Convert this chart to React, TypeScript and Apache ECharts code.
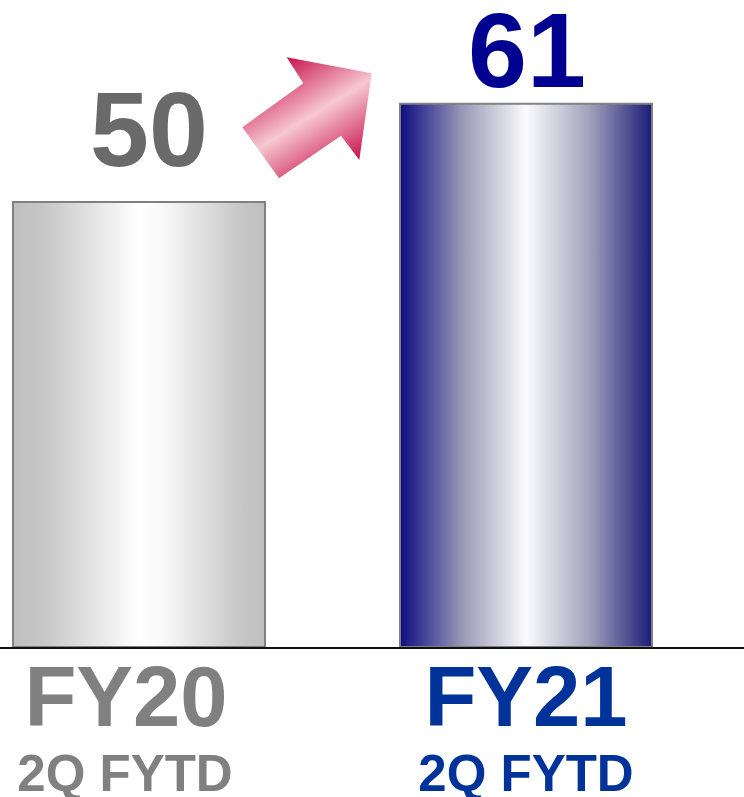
import React, { useEffect, useRef } from "react";
import * as echarts from "echarts";

const categories = ["FY20", "FY21"];
const subLabels = ["2Q FYTD", "2Q FYTD"];
const values = [50, 61];

const FONT = "'Liberation Sans', Arial, sans-serif";

export default function App() {
  const ref = useRef<HTMLDivElement>(null);
  useEffect(() => {
    document.body.style.margin = "0";
    const chart = echarts.init(ref.current!, null, { renderer: "svg" });
    const greyGrad = new echarts.graphic.LinearGradient(0, 0, 1, 0, [
      { offset: 0, color: "#bfbfbf" },
      { offset: 0.12, color: "#c6c6c6" },
      { offset: 0.5, color: "#ffffff" },
      { offset: 0.6, color: "#f8f8f8" },
      { offset: 0.92, color: "#c4c4c4" },
      { offset: 1, color: "#bfbfbf" },
    ]);
    const navyGrad = new echarts.graphic.LinearGradient(0, 0, 1, 0, [
      { offset: 0, color: "#0c0c82" },
      { offset: 0.25, color: "#9a9ab8" },
      { offset: 0.5, color: "#fbfbfd" },
      { offset: 0.75, color: "#a2a2bc" },
      { offset: 1, color: "#1c1c78" },
    ]);
    const arrowGrad = new echarts.graphic.LinearGradient(0.22, 0.08, 0.78, 0.93, [
      { offset: 0, color: "#c8124c" },
      { offset: 0.5, color: "#f7c8d2" },
      { offset: 1, color: "#c8124c" },
    ]);
    const itemStyles = [
      { color: greyGrad, borderColor: "#808080", borderWidth: 2 },
      { color: navyGrad, borderColor: "#808080", borderWidth: 2 },
    ];
    const labelStyles = [
      { color: "#6a6a6a", distance: 32, offset: [10, 0] },
      { color: "#000090", distance: 13, offset: [1, 0] },
    ];
    chart.setOption({
      animation: false,
      grid: [
        { left: -54.5, right: 24.5, top: 24, bottom: 149, outerBoundsMode: "none", containLabel: false },
        { left: 0, right: 0, top: 24, bottom: 149, outerBoundsMode: "none", containLabel: false },
      ],
      xAxis: [
        {
          type: "category",
          gridIndex: 0,
          data: categories,
          axisLine: { show: false },
          axisTick: { show: false },
          axisLabel: {
            margin: -5.5,
            interval: 0,
            formatter: (v: string, i: number) =>
              `{fy${i}|${v}}\n{q${i}|${subLabels[i]}}`,
            rich: {
              fy0: { fontFamily: FONT, fontWeight: "bold", fontSize: 85, lineHeight: 108, color: "#808080", padding: [0, 26, 0, 0] },
              q0: { fontFamily: FONT, fontWeight: "bold", fontSize: 51, lineHeight: 45.6, color: "#808080", padding: [0, 28, 0, 0] },
              fy1: { fontFamily: FONT, fontWeight: "bold", fontSize: 85, lineHeight: 108, color: "#003399" },
              q1: { fontFamily: FONT, fontWeight: "bold", fontSize: 51, lineHeight: 45.6, color: "#003399" },
            },
          },
        },
        {
          type: "value",
          gridIndex: 1,
          min: 0,
          max: 1,
          z: 10,
          axisLine: { show: true, lineStyle: { color: "#111111", width: 2 } },
          axisTick: { show: false },
          axisLabel: { show: false },
          splitLine: { show: false },
        },
      ],
      yAxis: [
        { type: "value", gridIndex: 0, min: 0, max: 69.8, show: false },
        { type: "value", gridIndex: 1, min: 0, max: 1, show: false },
      ],
      series: [
        {
          type: "bar",
          xAxisIndex: 0,
          yAxisIndex: 0,
          barWidth: 254,
          data: values.map((v, i) => ({
            value: v,
            itemStyle: itemStyles[i],
            label: {
              show: true,
              position: "top",
              fontFamily: FONT,
              fontWeight: "bold",
              fontSize: 106,
              lineHeight: 80,
              ...labelStyles[i],
            },
          })),
        },
      ],
      graphic: [
        {
          type: "polygon",
          shape: {
            points: [
              [371.7, 73.3],
              [359.3, 160],
              [341, 135.7],
              [279, 178.3],
              [242.3, 127.3],
              [303.3, 83.3],
              [286.7, 57.3],
            ],
          },
          style: { fill: arrowGrad },
        },
      ],
    });
    return () => chart.dispose();
  }, []);
  return <div ref={ref} style={{ width: 744, height: 797 }} />;
}
